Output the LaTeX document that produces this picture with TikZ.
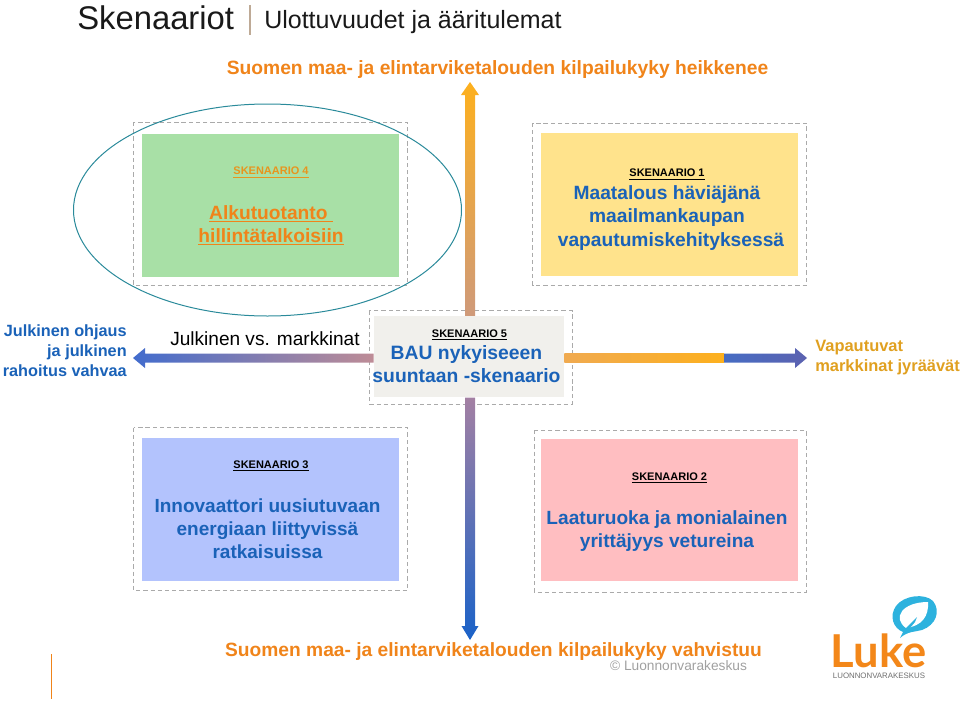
\documentclass[tikz,border=0pt]{standalone}
\usepackage{fontspec}
\setmainfont{Liberation Sans}
\newfontfamily\logofont{Lato}
\usetikzlibrary{calc,shapes.geometric}
\definecolor{lukeorange}{HTML}{F0841A}
\definecolor{boxblue}{HTML}{1A62B8}
\definecolor{gold}{HTML}{E0A020}
\definecolor{dashgrey}{HTML}{AAAAAA}
\definecolor{teal}{HTML}{2A8A9A}
\definecolor{sky}{HTML}{2DB2DE}
\newcommand{\fs}[1]{\fontsize{#1}{#1}\selectfont}
\tikzset{
  x=0.75pt,y=-0.75pt,
  dashbox/.style={draw=dashgrey,dashed,line width=0.7pt,dash pattern=on 3.2pt off 2.2pt},
  fillbox/.style={draw=none,inner sep=0pt,minimum width=#1},
  tag/.style={font=\bfseries\fs{8.25},inner sep=0pt,text=black,align=center},
  headline/.style={font=\bfseries\fontsize{14.4}{17.5}\selectfont,inner sep=0pt,text=boxblue,align=center},
  side/.style={inner sep=0pt},
}
\begin{document}
\begin{tikzpicture}
\useasboundingbox (0,0) rectangle (960,700);
% dashed frames
\draw[dashbox] (133.5,122) rectangle (407,285);
\draw[dashbox] (532.5,123) rectangle (806.5,285);
\draw[dashbox] (369,310.7) rectangle (572,404);
\draw[dashbox] (133.5,427.5) rectangle (407,590.5);
\draw[dashbox] (534,430) rectangle (806,592);
% filled boxes
\node[fillbox=192.75pt,minimum height=107.25pt,fill={rgb,255:red,168;green,224;blue,166}] (b4) at (270.8,205.5) {};
\node[fillbox=192.75pt,minimum height=107.25pt,fill={rgb,255:red,255;green,227;blue,140}] (b1) at (669.5,204) {};
\node[fillbox=142.5pt,minimum height=61pt,fill={rgb,255:red,241;green,240;blue,236}] (b5) at (469,356.8) {};
\node[fillbox=192.75pt,minimum height=107.25pt,fill={rgb,255:red,179;green,195;blue,253}] (b3) at (270.8,509.5) {};
\node[fillbox=192.75pt,minimum height=106.5pt,fill={rgb,255:red,255;green,190;blue,193}] (b2) at (669.5,510) {};
% ellipse
\node[draw=teal,line width=0.75pt,ellipse,minimum width=291pt,minimum height=159pt,inner sep=0pt] (focus) at (267.5,210) {};
% arrows
\coordinate (upTip) at (470,82);
\coordinate (downTip) at (470,640);
\coordinate (leftTip) at (133,358);
\coordinate (rightTip) at (807,358);
\shade[bottom color={rgb,255:red,207;green,154;blue,122},top color={rgb,255:red,253;green,176;blue,30}]
  ($(upTip)+(-5,13)$) -- ($(upTip |- b5.north)+(-5,0)$) -- ++(10,0) -- ($(upTip)+(5,13)$) -- ($(upTip)+(9,13)$) -- (upTip) -- ($(upTip)+(-9,13)$) -- cycle;
\shade[top color={rgb,255:red,163;green,128;blue,163},bottom color={rgb,255:red,26;green,98;blue,200}]
  ($(downTip)+(-5,-14)$) -- ($(downTip |- b5.south)+(-5,0)$) -- ++(10,0) -- ($(downTip)+(5,-14)$) -- ($(downTip)+(8.5,-14)$) -- (downTip) -- ($(downTip)+(-8.5,-14)$) -- cycle;
\shade[left color={rgb,255:red,66;green,108;blue,205},right color={rgb,255:red,190;green,140;blue,150}]
  (leftTip) -- ($(leftTip)+(12,-10)$) -- ($(leftTip)+(12,-4.5)$) -- (b5.west |- {$(leftTip)+(0,-4.5)$}) -- (b5.west |- {$(leftTip)+(0,4.5)$}) -- ($(leftTip)+(12,4.5)$) -- ($(leftTip)+(12,10)$) -- cycle;
\shade[left color={rgb,255:red,240;green,170;blue,80},right color={rgb,255:red,253;green,176;blue,30}]
  (b5.east |- {$(rightTip)+(0,-4.5)$}) rectangle (724,362.5);
\shade[left color={rgb,255:red,70;green,108;blue,195},right color={rgb,255:red,92;green,98;blue,176}]
  (724,353.5) -- ($(rightTip)+(-12,-4.5)$) -- ($(rightTip)+(-12,-10)$) -- (rightTip) -- ($(rightTip)+(-12,10)$) -- ($(rightTip)+(-12,4.5)$) -- (724,362.5) -- cycle;
% title
\node[anchor=base west,inner sep=0pt,font=\fs{24.6},text={rgb,255:red,25;green,25;blue,25}] (title) at (77,29) {Skenaariot};
\draw[draw={rgb,255:red,190;green,170;blue,150},line width=1pt] (250,5) -- (250,35);
\node[anchor=base west,inner sep=0pt,font=\fs{18.75},text={rgb,255:red,25;green,25;blue,25}] (subtitle) at (264,28.5) {Ulottuvuudet ja ääritulemat};
% axis labels
\node[inner sep=0pt,font=\bfseries\fs{14.44},text=lukeorange] (top) at (497.5,70) {Suomen maa- ja elintarviketalouden kilpailukyky heikkenee};
\node[inner sep=0pt,font=\bfseries\fs{14.4},text=lukeorange] (bottom) at (493.5,652) {Suomen maa- ja elintarviketalouden kilpailukyky vahvistuu};
\node[inner sep=0pt,font=\fs{10.3},text={rgb,255:red,160;green,160;blue,160}] (copy) at (678.5,666) {© Luonnonvarakeskus};
\node[side,align=right,anchor=east,text=boxblue,font=\bfseries\fontsize{12.2}{15}\selectfont] (leftlab) at (127,351) {Julkinen ohjaus\\ja julkinen\\rahoitus vahvaa};
\node[inner sep=0pt,font=\fs{14.3},text=black,anchor=west] (vs) at (170,339) {Julkinen vs. markkinat};
\node[side,align=left,anchor=west,text=gold,font=\bfseries\fontsize{12.35}{15}\selectfont] (rightlab) at (815,358) {Vapautuvat\\markkinat jyräävät};
% scenario 4
\node[tag,text=gold!60!lukeorange] (t4) at (271,172.5) {\underline{SKENAARIO 4}};
\node[headline,text=lukeorange] (h4a) at (271,214) {\underline{Alkutuotanto\ }};
\node[headline,text=lukeorange] (h4b) at (271,237) {\underline{hillintätalkoisiin}};
% scenario 1
\node[tag] (t1) at (667,174.5) {\underline{SKENAARIO 1}};
\node[headline] (h1) at (667,218) {Maatalous häviäjänä\\maailmankaupan\\\hspace*{6pt}vapautumiskehityksessä};
% scenario 5
\node[tag] (t5) at (469.5,335.2) {\underline{SKENAARIO 5}};
\node[headline,font=\bfseries\fontsize{14.5}{17.25}\selectfont] (h5) at (466.5,364.5) {BAU nykyiseeen\\suuntaan -skenaario};
% scenario 3
\node[tag] (t3) at (271,465.7) {\underline{SKENAARIO 3}};
\node[headline,font=\bfseries\fontsize{14.25}{17.25}\selectfont] (h3) at (267.5,528.5) {Innovaattori uusiutuvaan\\energiaan liittyvissä\\ratkaisuissa};
% scenario 2
\node[tag] (t2) at (669.5,477.7) {\underline{SKENAARIO 2}};
\node[headline,font=\bfseries\fontsize{14.33}{17.25}\selectfont] (h2) at (667,531.5) {Laaturuoka ja monialainen\\yrittäjyys vetureina};
% footer rule
\fill[fill={rgb,255:red,240;green,132;blue,26}] (50.8,654) rectangle (52.2,698.5);
% logo
\fill[sky] (900,638) -- (903,632) .. controls (893,628) and (889,616) .. (896,606) .. controls (904,595) and (925,593) .. (933,601) .. controls (941,611) and (936,625) .. (922,630) .. controls (915,632) and (908,631) .. (900,638) -- cycle;
\fill[white] (906,628) .. controls (892,618) and (902,602) .. (928,602) .. controls (929,616) and (922,626) .. (906,628) -- cycle;
\fill[sky] (905,629) -- (917,617) -- (915,622) -- (910,628) -- cycle;
\node[inner sep=0pt,anchor=base west,font=\logofont\bfseries\fs{34},text={rgb,255:red,243;green,135;blue,25}] (luke) at (830.5,667) {Luke};
\node[inner sep=0pt,font=\fs{5.9},text={rgb,255:red,110;green,110;blue,110}] (lukesub) at (879,676) {LUONNONVARAKESKUS};
\end{tikzpicture}
\end{document}
